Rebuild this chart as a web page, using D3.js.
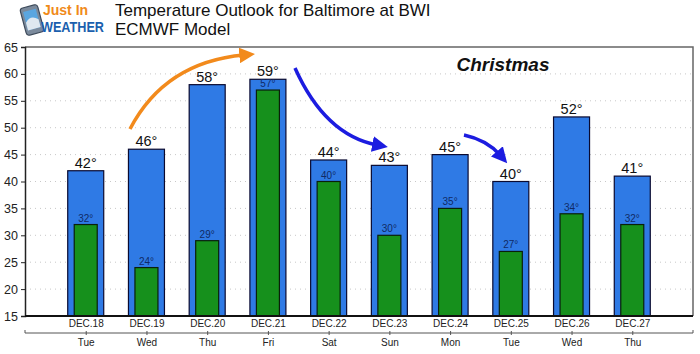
<!DOCTYPE html>
<html>
<head>
<meta charset="utf-8">
<script src="https://cdn.jsdelivr.net/npm/d3@7"></script>
<style>
  body { margin: 0; background: #fff; }
  text { font-family: "Liberation Sans", Arial, sans-serif; }
</style>
</head>
<body>
<div id="chart"></div>
<script>
// data
const dates = ['DEC.18', 'DEC.19', 'DEC.20', 'DEC.21', 'DEC.22', 'DEC.23', 'DEC.24', 'DEC.25', 'DEC.26', 'DEC.27'];
const weekdays = ['Tue', 'Wed', 'Thu', 'Fri', 'Sat', 'Sun', 'Mon', 'Tue', 'Wed', 'Thu'];
const highs = [42, 46, 58, 59, 44, 43, 45, 40, 52, 41];
const lows = [32, 24, 29, 57, 40, 30, 35, 27, 34, 32];
const yTicks = [15, 20, 25, 30, 35, 40, 45, 50, 55, 60, 65];

const W = 700, H = 354;
const plot = { left: 25, right: 693, top: 47, bottom: 316 };

const svg = d3.select('#chart').append('svg')
    .attr('width', W).attr('height', H);

const x = d3.scalePoint().domain(dates).range([plot.left, plot.right]).padding(1);
const y = d3.scaleLinear().domain([15, 65]).range([plot.bottom, plot.top]);

const blueW = 36, greenW = 23;

// gridlines
svg.append('g').selectAll('line')
    .data(yTicks.filter(t => t > 15 && t < 65))
    .join('line')
    .attr('x1', plot.left).attr('x2', plot.right)
    .attr('y1', d => y(d)).attr('y2', d => y(d))
    .attr('stroke', '#c8c8c8').attr('stroke-width', 1)
    .attr('stroke-dasharray', '1,4');

// frame (top / right)
svg.append('path')
    .attr('d', `M${plot.left},${plot.top}H${plot.right}V${plot.bottom}`)
    .attr('fill', 'none').attr('stroke', '#666').attr('stroke-width', 1.5);

// bars
const bars = svg.append('g');
bars.selectAll('rect.hi')
    .data(dates)
    .join('rect')
    .attr('class', 'hi')
    .attr('x', d => x(d) - blueW / 2)
    .attr('width', blueW)
    .attr('y', (d, i) => y(highs[i]))
    .attr('height', (d, i) => plot.bottom - y(highs[i]))
    .attr('fill', '#2f7ae5').attr('stroke', '#0a0a30').attr('stroke-width', 1.2);

bars.selectAll('rect.lo')
    .data(dates)
    .join('rect')
    .attr('class', 'lo')
    .attr('x', d => x(d) - greenW / 2)
    .attr('width', greenW)
    .attr('y', (d, i) => y(lows[i]))
    .attr('height', (d, i) => plot.bottom - y(lows[i]))
    .attr('fill', '#16901c').attr('stroke', '#0a200a').attr('stroke-width', 1.2);

// labels
bars.selectAll('text.hi')
    .data(dates)
    .join('text')
    .attr('class', 'hi')
    .attr('x', d => x(d))
    .attr('y', (d, i) => y(highs[i]) - 3)
    .attr('text-anchor', 'middle')
    .attr('font-family', '"DejaVu Sans", sans-serif')
    .attr('font-size', '14.5px')
    .attr('fill', '#111')
    .text((d, i) => highs[i] + '°');

bars.selectAll('text.lo')
    .data(dates)
    .join('text')
    .attr('class', 'lo')
    .attr('x', d => x(d))
    .attr('y', (d, i) => y(lows[i]) - 3)
    .attr('text-anchor', 'middle')
    .attr('font-family', '"DejaVu Sans", sans-serif')
    .attr('font-size', '10px')
    .attr('fill', '#102a66')
    .text((d, i) => lows[i] + '°');

// y axis
const yAxis = svg.append('g')
    .attr('transform', `translate(${plot.left},0)`)
    .call(d3.axisLeft(y).tickValues(yTicks).tickSize(4).tickPadding(3));
yAxis.select('.domain').attr('stroke', '#222').attr('stroke-width', 1.5);
yAxis.selectAll('.tick line').attr('stroke', '#222');
yAxis.selectAll('.tick text')
    .attr('font-family', '"Liberation Sans", Arial, sans-serif')
    .attr('font-size', '12.5px').attr('fill', '#222');

// x axis (dates)
const xAxis = svg.append('g')
    .attr('transform', `translate(0,${plot.bottom})`)
    .call(d3.axisBottom(x).tickSize(0).tickPadding(4));
xAxis.select('.domain').attr('d', `M${plot.left},0H${plot.right}`)
    .attr('stroke', '#111').attr('stroke-width', 1.8);
xAxis.selectAll('.tick text')
    .attr('font-family', '"DejaVu Sans Condensed", "DejaVu Sans", sans-serif')
    .attr('font-size', '10px').attr('fill', '#222');

// second axis (weekdays)
const x2 = svg.append('g')
    .attr('transform', `translate(0,333)`)
    .call(d3.axisBottom(x).tickSize(2).tickPadding(4).tickFormat((d, i) => weekdays[i]));
x2.select('.domain').attr('d', `M${plot.left},-3V0H${plot.right}V-3`)
    .attr('stroke', '#555').attr('stroke-width', 1);
x2.selectAll('.tick line').attr('y1', -2).attr('stroke', '#555');
x2.selectAll('.tick text')
    .attr('font-family', '"DejaVu Sans Condensed", "DejaVu Sans", sans-serif')
    .attr('font-size', '10px').attr('fill', '#222');

// arrows
const defs = svg.append('defs');
function marker(id, color) {
    defs.append('marker')
        .attr('id', id)
        .attr('viewBox', '0 0 10 10')
        .attr('refX', 3).attr('refY', 5)
        .attr('markerWidth', 4.5).attr('markerHeight', 4.5)
        .attr('markerUnits', 'strokeWidth')
        .attr('orient', 'auto')
        .append('path').attr('d', 'M0,0L10,5L0,10Z').attr('fill', color);
}
marker('orangeHead', '#f28a1c');
marker('blueHead', '#1c1ce0');

svg.append('path')
    .attr('d', 'M130,129 Q165,62 244,55')
    .attr('fill', 'none').attr('stroke', '#f28a1c').attr('stroke-width', 3.5)
    .attr('marker-end', 'url(#orangeHead)');

svg.append('path')
    .attr('d', 'M295,68 Q325,135 377,145')
    .attr('fill', 'none').attr('stroke', '#1c1ce0').attr('stroke-width', 3.5)
    .attr('marker-end', 'url(#blueHead)');

svg.append('path')
    .attr('d', 'M464,135 Q487,140 500,155')
    .attr('fill', 'none').attr('stroke', '#1c1ce0').attr('stroke-width', 3.5)
    .attr('marker-end', 'url(#blueHead)');

// Christmas label
svg.append('text')
    .attr('x', 503).attr('y', 71)
    .attr('text-anchor', 'middle')
    .attr('font-size', '19px').attr('font-weight', 'bold').attr('font-style', 'italic')
    .attr('fill', '#111')
    .text('Christmas');

// title
svg.append('text')
    .attr('x', 115).attr('y', 16)
    .attr('font-size', '17px').attr('fill', '#111')
    .text('Temperature Outlook for Baltimore at BWI');
svg.append('text')
    .attr('x', 115).attr('y', 35)
    .attr('font-size', '17px').attr('fill', '#111')
    .text('ECMWF Model');

// logo
const logo = svg.append('g');
const phone = logo.append('g').attr('transform', 'translate(32,20) rotate(-15)');
phone.append('rect')
    .attr('x', -9).attr('y', -14).attr('width', 18).attr('height', 28).attr('rx', 3)
    .attr('fill', '#7b8a9c').attr('stroke', '#3d4a5a').attr('stroke-width', 1.2);
phone.append('rect')
    .attr('x', -6.5).attr('y', -10).attr('width', 13).attr('height', 19)
    .attr('fill', '#5aa6e0');
phone.append('path')
    .attr('d', 'M-6.5,9 L-6.5,1 Q0,-6 6.5,1 L6.5,9Z')
    .attr('fill', '#dfe8f0');
logo.append('text')
    .attr('x', 43).attr('y', 15)
    .attr('font-size', '14px').attr('font-weight', 'bold')
    .attr('fill', '#f08a1a')
    .text('Just In');
logo.append('text')
    .attr('x', 41).attr('y', 32)
    .attr('font-size', '14px').attr('font-weight', 'bold')
    .attr('fill', '#1b5fae')
    .attr('textLength', 63).attr('lengthAdjust', 'spacingAndGlyphs')
    .text('WEATHER');
</script>
</body>
</html>
